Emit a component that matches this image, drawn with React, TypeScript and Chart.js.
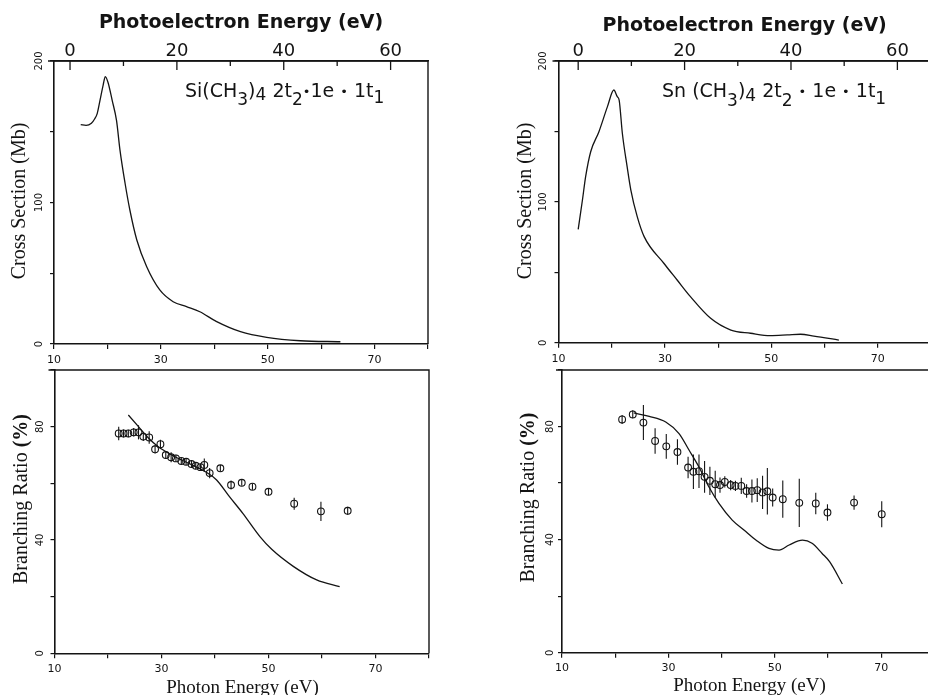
import React, { useEffect, useRef } from 'react';
import { Chart, registerables } from 'chart.js';

Chart.register(...registerables);

// ---------------- data ----------------
// Si(CH3)4 cross section (photon energy eV, Mb)
const siCsEnergy = [15, 16, 17, 17.6, 18.1, 18.6, 19.2, 19.6, 20.1, 20.9, 21.7, 22.35, 23.3, 24.2, 25.5, 27.35, 29.8, 32.3, 34.8, 37.3, 40.45, 44.9, 49.8, 56.1, 63.6];
const siCsValue = [155, 154.5, 156, 159, 163, 172, 183, 189, 185, 172, 158, 137, 113.6, 94.7, 73.5, 54.6, 38.2, 29.9, 26.4, 22.8, 15.8, 8.7, 4.7, 2.3, 1.6];

// Sn(CH3)4 cross section
const snCsEnergy = [13.7, 14.5, 15.1, 16.05, 17.6, 19.2, 20.4, 21.05, 21.4, 22.0, 22.9, 23.6, 24.8, 26.1, 29.8, 32.3, 34.8, 38.6, 42.4, 46.1, 49.8, 53, 55.5, 58, 62.7];
const snCsValue = [80.5, 101.3, 117.9, 135.6, 149.8, 167.6, 179.4, 174.7, 172.3, 148.7, 125, 108.4, 89.5, 75.3, 56.4, 44.5, 32.7, 17.3, 9.0, 6.7, 5.0, 5.5, 6.0, 4.7, 1.9];

// Si branching ratio: experiment
const siBrEnergy = [22.0, 22.9, 23.8, 24.8, 25.7, 26.6, 27.7, 28.8, 29.8, 30.8, 31.8, 32.7, 33.7, 34.6, 35.6, 36.4, 37.3, 38.0, 39.0, 41.0, 43.0, 45.0, 47.0, 50.0, 54.8, 59.8, 64.8];
const siBrValue = [77.6, 77.6, 77.6, 78.0, 78.0, 76.5, 76.2, 72.0, 73.8, 70.0, 69.2, 68.8, 67.9, 67.6, 66.8, 66.2, 65.7, 66.5, 63.6, 65.3, 59.4, 60.2, 58.8, 57.0, 52.8, 50.1, 50.3];
const siBrError = [2.4, 1.4, 1.3, 1.5, 2.5, 1.6, 2.2, 1.5, 1.6, 1.4, 1.8, 1.3, 1.2, 1.1, 1.2, 1.2, 1.1, 2.3, 1.8, 1.2, 1.6, 1.0, 1.1, 1.2, 2.1, 3.4, 1.4];
// Si branching ratio: theory
const siThEnergy = [23.8, 25.7, 27.6, 29.4, 31.9, 35.7, 38.2, 40.3, 42.7, 45.2, 48.4, 50.6, 54.7, 59.0, 63.3];
const siThValue = [84.1, 80.0, 75.9, 72.9, 70.0, 66.5, 64.1, 61.2, 55.3, 49.4, 41.2, 36.7, 30.6, 25.9, 23.5];

// Sn branching ratio: experiment
const snBrEnergy = [21.3, 23.3, 25.3, 27.5, 29.6, 31.7, 33.7, 34.7, 35.75, 36.8, 37.8, 38.8, 39.7, 40.6, 41.7, 42.6, 43.7, 44.7, 45.7, 46.7, 47.7, 48.6, 49.6, 51.5, 54.6, 57.7, 59.9, 64.9, 70.1];
const snBrValue = [82.5, 84.3, 81.4, 74.9, 73.0, 71.0, 65.5, 64.0, 64.2, 62.2, 60.8, 59.6, 59.3, 60.4, 59.3, 59.0, 59.0, 57.2, 57.2, 57.5, 56.7, 57.1, 54.9, 54.3, 53.0, 52.8, 49.6, 53.1, 49.0];
const snBrError = [1.6, 1.5, 6.2, 4.5, 4.4, 4.5, 3.8, 6.1, 5.9, 5.6, 5.0, 4.8, 2.7, 2.0, 1.8, 1.8, 2.9, 2.4, 4.1, 4.2, 5.9, 8.2, 3.2, 6.6, 8.5, 3.8, 2.9, 2.5, 4.6];
// Sn branching ratio: theory
const snThEnergy = [23.5, 26.4, 29.5, 32.0, 33.9, 35.75, 37.6, 39.5, 42.0, 44.2, 46.5, 48.9, 50.8, 52.7, 55.2, 57.0, 58.9, 60.3, 62.7];
const snThValue = [84.8, 83.6, 81.6, 77.5, 71.6, 65.7, 58.7, 52.8, 46.9, 43.4, 39.8, 36.9, 36.3, 38.1, 39.8, 38.7, 35.1, 32.2, 24.3];

// tick values and labels
const photonTicks = [10, 20, 30, 40, 50, 60, 70, 80];
const photonLabels = [10, 30, 50, 70];
const peTicks = [0, 10, 20, 30, 40, 50, 60];
const peLabels = [0, 20, 40, 60];
const csTicks = [0, 50, 100, 150, 200];
const csLabels = [0, 100, 200];
const brTicks = [0, 20, 40, 60, 80, 100];
const brLabels = [0, 40, 80];

// ---------------- layout / style ----------------
const W = 960;
const H = 695;
const INK = '#141414';
const WY = 10;
const HX = 24;
const HT = 61;

type Seg = [string, number, number?];

interface PanelDef {
  l: number; r: number; t: number; b: number;
  yMax: number; yTicks: number[]; yLabels: number[]; yLabOff: number;
  peOffset?: number; titlePad?: number;
  xPad: number;
  yTitle: Seg[]; yTitleX: number; yTitleY: number;
  xTitle?: { x: number; y: number };
  note?: { x: number; y: number; segs: Seg[] };
  lines: { e: number[]; v: number[] }[];
  points?: { e: number[]; v: number[]; err: number[] };
}

const panels: PanelDef[] = [
  {
    l: 54, r: 428, t: 61, b: 344, yMax: 200, yTicks: csTicks, yLabels: csLabels, yLabOff: 15,
    peOffset: 13.0, titlePad: 12, xPad: 5,
    yTitle: [['Cross Section (Mb)', 0]], yTitleX: 20, yTitleY: 201,
    note: { x: 185, y: 97, segs: [['Si(CH', 0], ['3', 8, 17], [')', 0], ['4', 3, 17], [' 2t', 0], ['2', 8, 17], ['•', -1, 13], ['1e', 0], [' ', 0], ['•', -1, 13], [' 1t', 0], ['1', 6, 17]] },
    lines: [{ e: siCsEnergy, v: siCsValue }],
  },
  {
    l: 558.5, r: 930.9, t: 61, b: 342.7, yMax: 200, yTicks: csTicks, yLabels: csLabels, yLabOff: 15,
    peOffset: 13.7, titlePad: 15, xPad: 5,
    yTitle: [['Cross Section (Mb)', 0]], yTitleX: 525.5, yTitleY: 201,
    note: { x: 662, y: 97, segs: [['Sn (CH', 0], ['3', 9, 17], [')', 0], ['4', 4, 17], [' 2t', 0], ['2', 9, 17], [' ', 0], ['•', -1, 13], [' 1e ', 0], ['•', -1, 13], [' 1t', 0], ['1', 7, 17]] },
    lines: [{ e: snCsEnergy, v: snCsValue }],
  },
  {
    l: 54.5, r: 429, t: 370, b: 653.3, yMax: 100, yTicks: brTicks, yLabels: brLabels, yLabOff: 14.5,
    xPad: 4,
    yTitle: [['Branching Ratio ', 0], ['(%)', 1]], yTitleX: 21.5, yTitleY: 499,
    xTitle: { x: 242.5, y: 692.5 },
    lines: [{ e: siThEnergy, v: siThValue }],
    points: { e: siBrEnergy, v: siBrValue, err: siBrError },
  },
  {
    l: 562, r: 934.4, t: 370, b: 652.7, yMax: 100, yTicks: brTicks, yLabels: brLabels, yLabOff: 12,
    xPad: 4,
    yTitle: [['Branching Ratio ', 0], ['(%)', 1]], yTitleX: 529, yTitleY: 497.5,
    xTitle: { x: 749.5, y: 691 },
    lines: [{ e: snThEnergy, v: snThValue }],
    points: { e: snBrEnergy, v: snBrValue, err: snBrError },
  },
];

function makeDecor(p: PanelDef) {
  return {
    id: 'decor',
    afterDatasetsDraw(chart: any) {
      if (!p.points) return;
      const ctx = chart.ctx;
      const ys = chart.scales.y;
      chart.data.datasets.forEach((ds: any, i: number) => {
        if (!ds.errors) return;
        const meta = chart.getDatasetMeta(i);
        ctx.save();
        ctx.strokeStyle = INK;
        ctx.lineWidth = 1.1;
        meta.data.forEach((el: any, j: number) => {
          const v = ds.data[j].y;
          const e = ds.errors[j];
          ctx.beginPath();
          ctx.moveTo(el.x, ys.getPixelForValue(v + e));
          ctx.lineTo(el.x, ys.getPixelForValue(v - e));
          ctx.stroke();
        });
        ctx.restore();
      });
    },
    afterDraw(chart: any) {
      const ctx = chart.ctx;
      const a = chart.chartArea;
      ctx.save();
      ctx.strokeStyle = INK;
      ctx.fillStyle = INK;
      // frame (top + right)
      ctx.lineWidth = 1.4;
      ctx.beginPath();
      ctx.moveTo(a.left - 6, a.top);
      ctx.lineTo(a.right, a.top);
      ctx.lineTo(a.right, a.bottom);
      ctx.stroke();
      // inward ticks of the photoelectron-energy axis
      const xt = chart.scales.xt;
      if (xt) {
        ctx.lineWidth = 1.3;
        xt.ticks.forEach((t: any) => {
          const px = xt.getPixelForValue(t.value);
          const len = t.value % 20 === 0 ? 9 : 5;
          ctx.beginPath();
          ctx.moveTo(px, a.top);
          ctx.lineTo(px, a.top + len);
          ctx.stroke();
        });
      }
      // rotated y tick labels
      const ys = chart.scales.y;
      ctx.font = '10px "DejaVu Sans"';
      ctx.textAlign = 'center';
      ctx.textBaseline = 'middle';
      ys.ticks.forEach((t: any) => {
        if (!p.yLabels.includes(t.value)) return;
        const py = ys.getPixelForValue(t.value);
        ctx.save();
        ctx.translate(a.left - p.yLabOff, py);
        ctx.rotate(-Math.PI / 2);
        ctx.fillText(String(t.value), 0, 0);
        ctx.restore();
      });
      // y title (rotated, mixed fonts)
      const fonts = ['20px "Liberation Serif"', 'bold 20px "Liberation Serif"'];
      let total = 0;
      p.yTitle.forEach(([s, f]) => { ctx.font = fonts[f]; total += ctx.measureText(s).width; });
      ctx.save();
      ctx.translate(p.yTitleX, p.yTitleY);
      ctx.rotate(-Math.PI / 2);
      ctx.textAlign = 'left';
      ctx.textBaseline = 'middle';
      let cx = -total / 2;
      p.yTitle.forEach(([s, f]) => {
        ctx.font = fonts[f];
        ctx.fillText(s, cx, 0);
        cx += ctx.measureText(s).width;
      });
      ctx.restore();
      // x title
      if (p.xTitle) {
        ctx.font = '19px "Liberation Serif"';
        ctx.textAlign = 'center';
        ctx.textBaseline = 'alphabetic';
        ctx.fillText('Photon Energy (eV)', p.xTitle.x, p.xTitle.y);
      }
      // annotation with subscripts
      if (p.note) {
        ctx.textAlign = 'left';
        ctx.textBaseline = 'alphabetic';
        let x = p.note.x;
        p.note.segs.forEach(([s, dy, size]) => {
          ctx.font = `${size || 19}px "DejaVu Sans"`;
          ctx.fillText(s, x, p.note!.y + dy);
          x += ctx.measureText(s).width;
        });
      }
      ctx.restore();
    },
  };
}

const setTicks = (vals: number[]) => (s: any) => {
  s.ticks = vals.map((value) => ({ value }));
};

function buildConfig(p: PanelDef): any {
  const padding = {
    left: p.l - WY,
    right: W - p.r,
    top: p.peOffset != null ? p.t - HT : p.t,
    bottom: H - p.b - HX,
  };
  const scales: any = {
    x: {
      type: 'linear', position: 'bottom', min: 10, max: 80,
      afterFit: (s: any) => { s.height = HX; },
      afterBuildTicks: setTicks(photonTicks),
      ticks: {
        autoSkip: false, maxRotation: 0, minRotation: 0,
        padding: p.xPad, color: INK, font: { family: 'DejaVu Sans', size: 11 },
        callback: (v: number) => (photonLabels.includes(v) ? String(v) : ''),
      },
      grid: { display: true, drawOnChartArea: false, drawTicks: true, tickLength: 5, color: INK, lineWidth: 1.2 },
      border: { display: true, color: INK, width: 1.6 },
    },
    y: {
      type: 'linear', position: 'left', min: 0, max: p.yMax,
      afterFit: (s: any) => { s.width = WY; },
      afterBuildTicks: setTicks(p.yTicks),
      ticks: { display: false },
      grid: { display: true, drawOnChartArea: false, drawTicks: true, tickLength: 4, color: INK, lineWidth: 1.2 },
      border: { display: true, color: INK, width: 1.6 },
    },
  };
  if (p.peOffset != null) {
    scales.xt = {
      type: 'linear', position: 'top', min: 10 - p.peOffset, max: 80 - p.peOffset,
      afterFit: (s: any) => { s.height = HT; },
      afterBuildTicks: setTicks(peTicks),
      ticks: {
        autoSkip: false, maxRotation: 0, minRotation: 0,
        padding: -1, color: INK, font: { family: 'DejaVu Sans', size: 18 },
        callback: (v: number) => (peLabels.includes(v) ? String(v) : ''),
      },
      grid: { display: true, drawOnChartArea: false, drawTicks: false },
      border: { display: true, color: INK, width: 1.6 },
      title: {
        display: true, text: 'Photoelectron Energy (eV)', color: INK,
        font: { family: 'DejaVu Sans', size: 19, weight: 'bold' },
        padding: { top: p.titlePad ?? 12, bottom: 0 },
      },
    };
  }
  const datasets: any[] = p.lines.map((ln) => ({
    type: 'line',
    data: ln.e.map((x, i) => ({ x, y: ln.v[i] })),
    borderColor: INK, borderWidth: 1.3, pointRadius: 0, fill: false,
    cubicInterpolationMode: 'monotone', xAxisID: 'x', yAxisID: 'y',
  }));
  if (p.points) {
    const pt = p.points;
    datasets.push({
      type: 'scatter',
      data: pt.e.map((x, i) => ({ x, y: pt.v[i] })),
      errors: pt.err,
      showLine: false, pointStyle: 'circle', pointRadius: 3.4,
      pointBorderWidth: 1.1, pointBorderColor: INK, pointBackgroundColor: 'rgba(0,0,0,0)',
      xAxisID: 'x', yAxisID: 'y',
    });
  }
  return {
    type: 'scatter',
    data: { datasets },
    options: {
      responsive: false, animation: false, devicePixelRatio: 1,
      layout: { padding },
      scales,
      plugins: { legend: { display: false }, tooltip: { enabled: false }, title: { display: false } },
      events: [],
    },
    plugins: [makeDecor(p)],
  };
}

function Panel({ def }: { def: PanelDef }) {
  const ref = useRef<HTMLCanvasElement>(null);
  useEffect(() => {
    const chart = new Chart(ref.current as HTMLCanvasElement, buildConfig(def));
    return () => chart.destroy();
  }, [def]);
  return (
    <canvas
      ref={ref}
      width={W}
      height={H}
      style={{ position: 'absolute', left: 0, top: 0, width: W, height: H }}
    />
  );
}

export default function App() {
  return (
    <div
      style={{
        position: 'absolute', left: 0, top: 0, width: 928, height: 695,
        overflow: 'hidden', background: '#fff',
      }}
    >
      {panels.map((p, i) => (
        <Panel key={i} def={p} />
      ))}
    </div>
  );
}
